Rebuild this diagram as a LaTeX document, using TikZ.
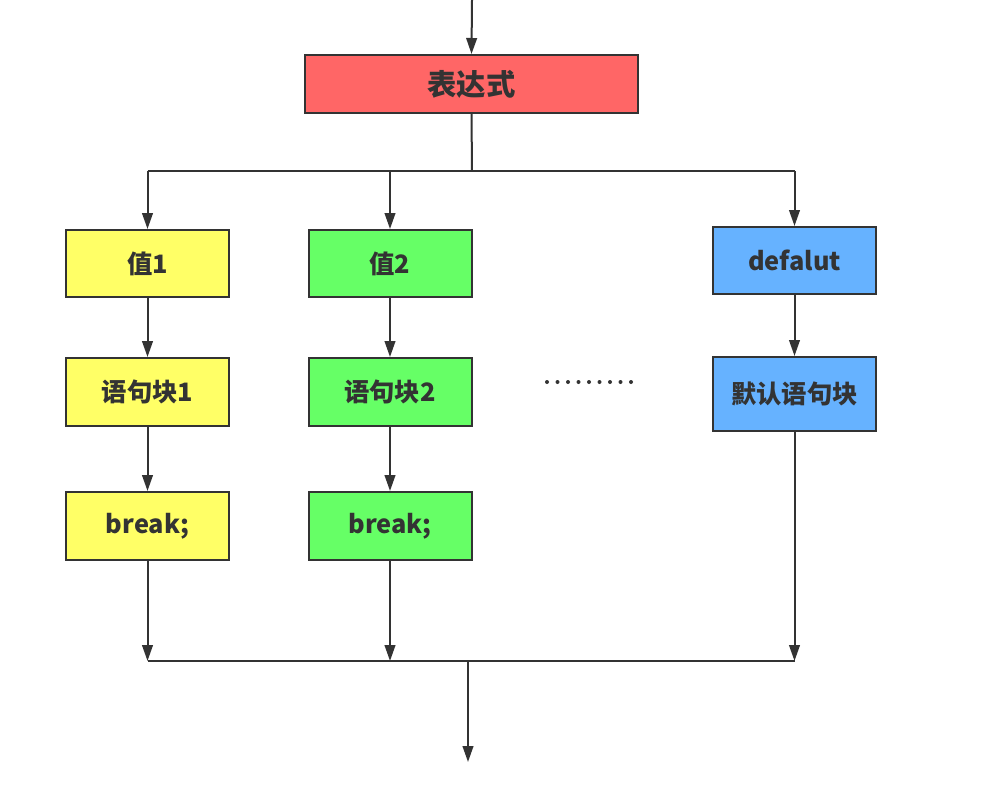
\documentclass[tikz,border=0pt]{standalone}
\usepackage{fontspec}
\setmainfont{Noto Sans CJK SC}
\usetikzlibrary{arrows.meta}
\definecolor{lc}{HTML}{333333}
\definecolor{cred}{HTML}{FF6666}
\definecolor{cyel}{HTML}{FFFF66}
\definecolor{cgrn}{HTML}{66FF66}
\definecolor{cblu}{HTML}{66B2FF}
\tikzset{
  box/.style={draw=lc, line width=1.5pt, minimum width=122.25pt, minimum height=50.25pt,
    inner sep=0pt, text=lc, font=\fontsize{19pt}{22pt}\selectfont\bfseries},
  conn/.style={draw=lc, line width=1.5pt},
  arr/.style={conn, -{Triangle[length=12pt,width=8pt]}},
}
\begin{document}
\begin{tikzpicture}[x=0.75pt,y=-0.75pt]
\fill[white] (0,0) rectangle (1007,803);
\useasboundingbox (0,0) rectangle (1007,803);

\node[box, fill=cred, minimum width=250pt, minimum height=43.5pt,
      font=\fontsize{22pt}{26pt}\selectfont\bfseries] (expr) at (471.5,84) {表达式};

\node[box, fill=cyel] (v1) at (147.5,263.5) {值1};
\node[box, fill=cgrn] (v2) at (390,263.5) {值2};
\node[box, fill=cblu] (vd) at (794.5,260.5) {defalut};

\node[box, fill=cyel, minimum height=51pt] (s1) at (147.5,392) {语句块1};
\node[box, fill=cgrn, minimum height=51pt] (s2) at (390,392) {语句块2};
\node[box, fill=cblu, minimum height=55.5pt] (sd) at (794.5,394) {默认语句块};

\node[box, fill=cyel, minimum height=51pt] (b1) at (147.5,526) {break;};
\node[box, fill=cgrn, minimum height=51pt] (b2) at (390,526) {break;};

\foreach \i in {0,...,8} {
  \fill[lc] (547+10.5*\i,382) circle (1.5pt);
}

\coordinate (top) at (472,0);
\coordinate (split) at (472,171);
\coordinate (join) at (468,661);
\coordinate (out) at (468,762);

\draw[arr] (top) -- (expr.north);
\draw[conn] (expr.south) -- (split);
\draw[conn] (v1.north |- split) -- (vd.north |- split);
\draw[arr] (v1.north |- split) -- (v1.north);
\draw[arr] (v2.north |- split) -- (v2.north);
\draw[arr] (vd.north |- split) -- (vd.north);

\draw[arr] (v1) -- (s1);
\draw[arr] (v2) -- (s2);
\draw[arr] (vd) -- (sd);
\draw[arr] (s1) -- (b1);
\draw[arr] (s2) -- (b2);

\draw[arr] (b1.south) -- (b1.south |- join);
\draw[arr] (b2.south) -- (b2.south |- join);
\draw[arr] (sd.south) -- (sd.south |- join);
\draw[conn] (b1.south |- join) -- (sd.south |- join);
\draw[arr] (join) -- (out);
\end{tikzpicture}
\end{document}
